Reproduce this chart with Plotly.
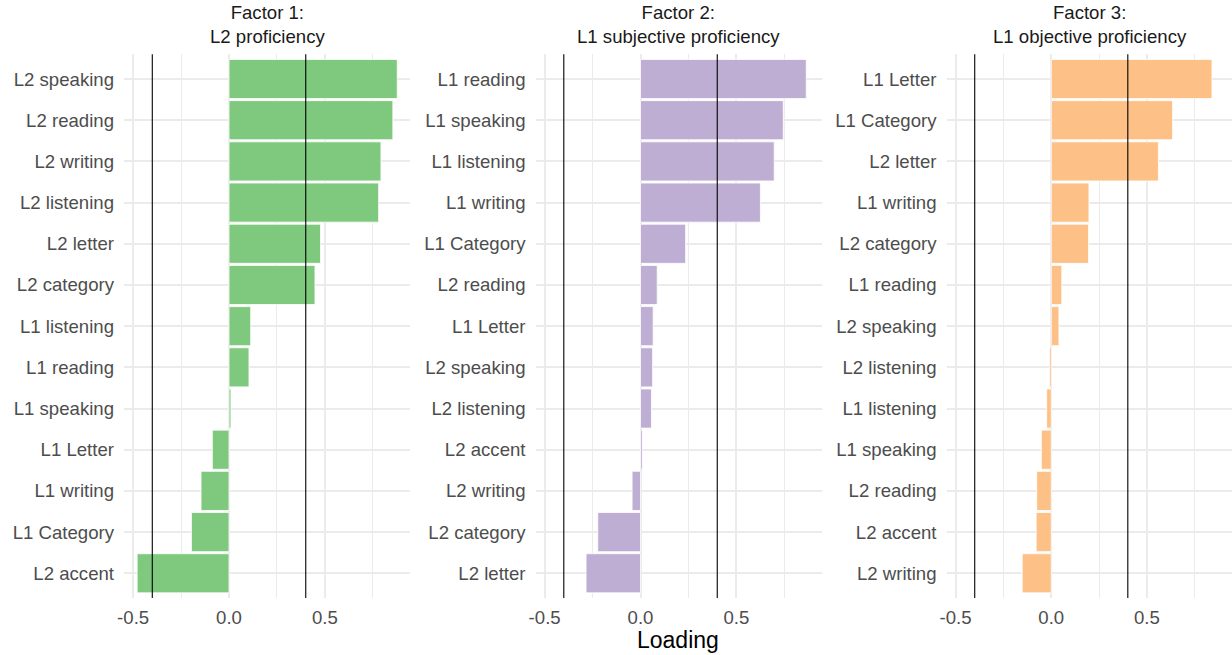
import plotly.graph_objects as go

W, H = 1232, 655

# ---- data (top-to-bottom order within each factor) ----
titles = ["Factor 1:<br>L2 proficiency",
          "Factor 2:<br>L1 subjective proficiency",
          "Factor 3:<br>L1 objective proficiency"]

labels1 = ["L2 speaking", "L2 reading", "L2 writing", "L2 listening", "L2 letter",
           "L2 category", "L1 listening", "L1 reading", "L1 speaking", "L1 Letter",
           "L1 writing", "L1 Category", "L2 accent"]
loadings1 = [0.877, 0.854, 0.792, 0.780, 0.477, 0.448, 0.113, 0.104, 0.010,
             -0.087, -0.146, -0.196, -0.479]

labels2 = ["L1 reading", "L1 speaking", "L1 listening", "L1 writing", "L1 Category",
           "L2 reading", "L1 Letter", "L2 speaking", "L2 listening", "L2 accent",
           "L2 writing", "L2 category", "L2 letter"]
loadings2 = [0.864, 0.744, 0.697, 0.625, 0.235, 0.087, 0.066, 0.063, 0.057,
             0.009, -0.044, -0.223, -0.284]

labels3 = ["L1 Letter", "L1 Category", "L2 letter", "L1 writing", "L2 category",
           "L1 reading", "L2 speaking", "L2 listening", "L1 listening", "L1 speaking",
           "L2 reading", "L2 accent", "L2 writing"]
loadings3 = [0.840, 0.634, 0.560, 0.197, 0.195, 0.055, 0.040, -0.009, -0.024,
             -0.052, -0.076, -0.079, -0.152]

x_tickvals = [-0.5, 0.0, 0.5]
x_ticktext = ["-0.5", "0.0", "0.5"]
x_minorvals = [-0.25, 0.25, 0.75]

thresholds = [-0.4, 0.4]
colors = ["#7FC97F", "#BEAED4", "#FDC086"]

panels = [(labels1, loadings1), (labels2, loadings2), (labels3, loadings3)]

# ---- layout geometry (pixels) ----
FONT = "Liberation Sans, Arial, Helvetica, sans-serif"
FS = 18.6
px_left = [124, 535.5, 946.5]
panel_w = 286.2
top_px, bot_px = 54.3, 598.0
xrange_ = [-0.5475, 0.9445]

fig = go.Figure()
layout = dict(
    width=W, height=H,
    margin=dict(l=0, r=0, t=0, b=0),
    paper_bgcolor="white", plot_bgcolor="white",
    showlegend=False,
    bargap=0.05,
    font=dict(family=FONT, size=FS, color="#4D4D4D"),
)
shapes = []
annotations = []

for i, (labs, vals) in enumerate(panels):
    n = "" if i == 0 else str(i + 1)
    fig.add_trace(go.Bar(
        x=vals, y=labs, orientation="h",
        marker=dict(color=colors[i], line=dict(color="white", width=0.8)),
        xaxis="x" + n, yaxis="y" + n,
    ))
    x0 = px_left[i] / W
    x1 = min(1.0, (px_left[i] + panel_w) / W)
    layout["xaxis" + n] = dict(
        domain=[x0, x1], anchor="y" + n, range=xrange_,
        tickmode="array", tickvals=x_tickvals, ticktext=x_ticktext,
        showgrid=True, gridcolor="#EBEBEB", gridwidth=1.6,
        minor=dict(tickmode="array", tickvals=x_minorvals, showgrid=True,
                   gridcolor="#EBEBEB", gridwidth=0.8),
        zeroline=False, showline=False, ticks="",
        ticklabelstandoff=6,
        tickfont=dict(family=FONT, size=FS, color="#4D4D4D"),
        fixedrange=True, automargin=False,
    )
    layout["yaxis" + n] = dict(
        domain=[1 - bot_px / H, 1 - top_px / H], anchor="x" + n,
        type="category", categoryorder="array", categoryarray=labs,
        range=[12.6, -0.6],
        showgrid=True, gridcolor="#EBEBEB", gridwidth=1.6,
        zeroline=False, showline=False, ticks="",
        ticklabelstandoff=9,
        tickfont=dict(family=FONT, size=FS, color="#4D4D4D"),
        fixedrange=True, automargin=False,
    )
    for t in thresholds:
        shapes.append(dict(type="line", xref="x" + n, yref="y" + n + " domain",
                           x0=t, x1=t, y0=0, y1=1, layer="above",
                           line=dict(color="black", width=1.1)))
    annotations.append(dict(
        text=titles[i], xref="paper", yref="paper",
        x=(px_left[i] + panel_w / 2) / W, y=1 - 49 / H,
        xanchor="center", yanchor="bottom", showarrow=False,
        font=dict(family=FONT, size=FS, color="#1A1A1A"),
    ))

annotations.append(dict(
    text="Loading", xref="paper", yref="paper",
    x=678 / W, y=1 - 640 / H, xanchor="center", yanchor="middle", showarrow=False,
    font=dict(family=FONT, size=23, color="black"),
))

layout["shapes"] = shapes
layout["annotations"] = annotations
fig.update_layout(**layout)
fig.write_html("out.html", config={"displayModeBar": False})

# remove default page margins so the 1232x655 figure fills the window exactly
with open("out.html", "r", encoding="utf-8") as f:
    html = f.read()
html = html.replace("<head>", "<head><style>html,body{margin:0;padding:0;overflow:hidden;}</style>", 1)
with open("out.html", "w", encoding="utf-8") as f:
    f.write(html)
